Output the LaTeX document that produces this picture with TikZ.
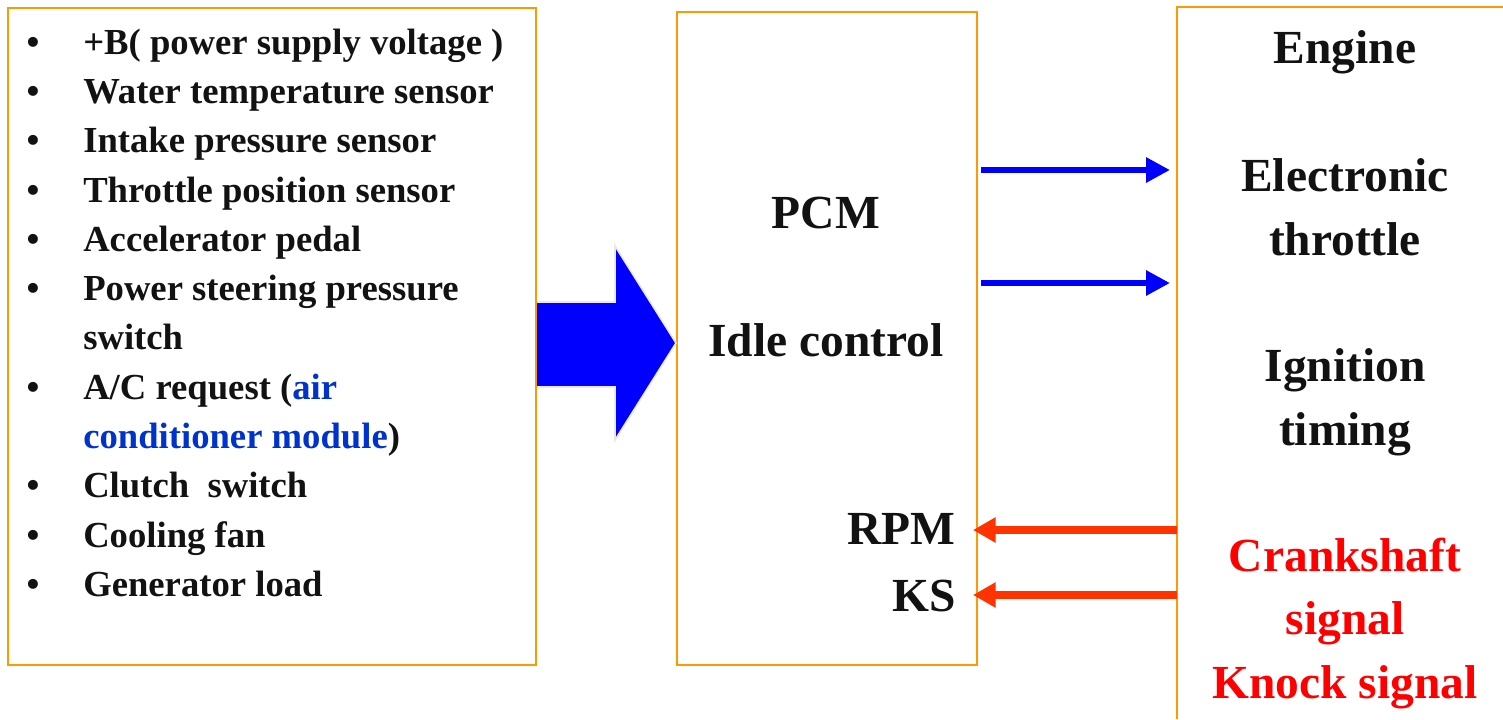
\documentclass[tikz,border=0pt]{standalone}
\usepackage{fontspec}
\setmainfont{Liberation Serif}
\usetikzlibrary{arrows.meta,fit,calc}
\definecolor{boxorange}{HTML}{FF9900}
\definecolor{arrowblue}{HTML}{0000FF}
\definecolor{textblue}{HTML}{0033CC}
\definecolor{arrowred}{HTML}{FF3300}
\definecolor{textred}{HTML}{FF0000}
\definecolor{edgebeige}{HTML}{ECE8DC}
\tikzset{
  box/.style={draw=boxorange, line width=1.5pt, inner sep=0pt},
  listtext/.style={anchor=base west, inner sep=0pt, font=\fontsize{27.5}{30}\selectfont\bfseries, text=black!93},
  bul/.style={anchor=base, inner sep=0pt, font=\fontsize{27.5}{30}\selectfont\bfseries, text=black!93},
  bigtext/.style={anchor=base, inner sep=0pt, font=\fontsize{35.6}{40}\selectfont\bfseries, text=black!93},
  redtext/.style={bigtext, text=textred},
  bluearrow/.style={draw=arrowblue, line width=5.2pt, -{Triangle[length=18pt,width=18pt]}},
  redarrow/.style={draw=arrowred, line width=5.6pt, -{Triangle[length=17pt,width=18pt]}},
}
\begin{document}
\begin{tikzpicture}[x=0.75pt,y=-0.75pt]
\useasboundingbox (0,0) rectangle (1503,719);
% boxes
\node[box, fit={(8,8) (536,665)}] (inputs) {};
\node[box, fit={(677,12) (977,665)}] (pcm) {};
\coordinate (engTL) at (1177,7);
\coordinate (engTR) at (1503,7);
\coordinate (engBL) at (1177,719);
\draw[draw=boxorange, line width=1.5pt] (engTR) -- (engTL) -- (engBL);
% big arrow
\draw[fill=arrowblue, draw=edgebeige, line width=1.2pt]
  (inputs.east |- 0,302) -- (615,302) -- (615,246) -- (pcm.west |- 0,343) -- (615,440) -- (615,387) -- (inputs.east |- 0,387);
% list
\foreach \y/\t [count=\i] in {54/{+B( power supply voltage )},103/{Water temperature sensor},152/{Intake pressure sensor},202/{Throttle position sensor},251/{Accelerator pedal},300/{Power steering pressure},399/{A/C request (\textcolor{textblue}{air}},497/{Clutch\ \ switch},547/{Cooling fan},596/{Generator load}}{
  \node[bul] (b\i) at (33,\y) {•};
  \node[listtext] (l\i) at (83,\y) {\t};
}
\node[listtext] (l6b) at (83,349) {switch};
\node[listtext] (l7b) at (83,448) {\textcolor{textblue}{conditioner module})};
% PCM texts
\node[bigtext] (pcmt) at (826,228) {PCM};
\node[bigtext] (idle) at (826,356) {Idle control};
\node[bigtext, anchor=base east] (rpm) at (956,544) {RPM};
\node[bigtext, anchor=base east] (ks) at (956,611) {KS};
% engine texts
\node[bigtext] (eng) at (1345,63) {Engine};
\node[bigtext] (et1) at (1345,191) {Electronic};
\node[bigtext] (et2) at (1345,255) {throttle};
\node[bigtext] (ig1) at (1345,381) {Ignition};
\node[bigtext] (ig2) at (1345,445) {timing};
\node[redtext] (cs1) at (1345,571) {Crankshaft};
\node[redtext] (cs2) at (1345,634) {signal};
\node[redtext] (kn) at (1345,698) {Knock signal};
% blue arrows
\coordinate (ba1s) at (981,170); \coordinate (ba1e) at (1170,170);
\coordinate (ba2s) at (981,283); \coordinate (ba2e) at (1170,283);
\draw[bluearrow] (ba1s) -- (ba1e);
\draw[bluearrow] (ba2s) -- (ba2e);
% red arrows
\coordinate (ra1s) at (1177,530); \coordinate (ra1e) at (973,530);
\coordinate (ra2s) at (1177,595); \coordinate (ra2e) at (973,595);
\draw[redarrow] (ra1s) -- (ra1e);
\draw[redarrow] (ra2s) -- (ra2e);
\end{tikzpicture}
\end{document}
